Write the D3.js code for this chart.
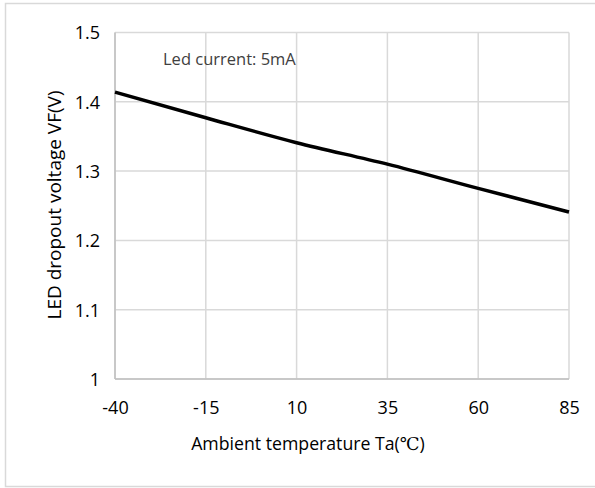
<!DOCTYPE html>
<html><head><meta charset="utf-8">
<script src="https://cdn.jsdelivr.net/npm/d3@7"></script>
<style>body{margin:0;background:#fff}svg{display:block}text{font-family:"Open Sans","Noto Sans",sans-serif}</style>
</head><body>
<script>
const temps = [-40, -15, 10, 35, 60, 85];
const vf = [1.414, 1.377, 1.341, 1.310, 1.275, 1.241];
const yTicks = [1, 1.1, 1.2, 1.3, 1.4, 1.5];
const xTitle = "Ambient temperature Ta(";
const yTitle = "LED dropout voltage VF(V)";
const note = "Led current: 5mA";

const W = 595, H = 488;
const m = {left:115, top:32.5, right:569, bottom:379};
const svg = d3.select("body").append("svg").attr("width", W).attr("height", H);
svg.append("rect").attr("x",5.5).attr("y",3.5).attr("width",W+10).attr("height",483)
  .attr("fill","#fff").attr("stroke","#d9d9d9").attr("stroke-width",1.5);

const x = d3.scaleLinear().domain([-40,85]).range([m.left,m.right]);
const y = d3.scaleLinear().domain([1,1.5]).range([m.bottom,m.top]);

const grid = svg.append("g").attr("stroke","#d9d9d9").attr("stroke-width",1.5);
grid.selectAll(".vx").data(temps).join("line")
  .attr("x1",d=>x(d)).attr("x2",d=>x(d)).attr("y1",m.top).attr("y2",m.bottom);
grid.selectAll(".hy").data(yTicks).join("line")
  .attr("y1",d=>y(d)).attr("y2",d=>y(d)).attr("x1",m.left).attr("x2",m.right);
svg.append("line").attr("x1",m.left).attr("x2",m.right).attr("y1",m.bottom).attr("y2",m.bottom)
  .attr("stroke","#bfbfbf").attr("stroke-width",1.5);
svg.append("line").attr("x1",m.left).attr("x2",m.left).attr("y1",m.top).attr("y2",m.bottom)
  .attr("stroke","#bfbfbf").attr("stroke-width",1.5);

const xAxis = d3.axisBottom(x).tickValues(temps).tickSize(0).tickPadding(0).tickFormat(d=>String(d));
const gx = svg.append("g").attr("transform",`translate(0,${m.bottom})`).call(xAxis);
gx.select(".domain").remove();
gx.selectAll("text").attr("dy",0).attr("y",35).attr("font-size",18).attr("fill","#000");

const yAxis = d3.axisLeft(y).tickValues(yTicks).tickSize(0).tickPadding(0).tickFormat(d=>String(d));
const gy = svg.append("g").attr("transform",`translate(${m.left-15},0)`).call(yAxis);
gy.select(".domain").remove();
gy.selectAll("text").attr("dy","0.35em").attr("font-size",18).attr("fill","#000");

svg.append("path").datum(temps.map((t,i)=>[t,vf[i]]))
  .attr("d", d3.line().x(d=>x(d[0])).y(d=>y(d[1])).curve(d3.curveMonotoneX))
  .attr("fill","none").attr("stroke","#000").attr("stroke-width",3.5);

svg.append("text").attr("x",163).attr("y",65).attr("font-size",16.5).attr("fill","#404040").text(note);

const xt = svg.append("text").attr("x",308).attr("y",450).attr("text-anchor","middle")
  .attr("font-size",17.7).attr("fill","#000");
xt.append("tspan").text(xTitle);
xt.append("tspan").attr("font-family","'Liberation Serif','DejaVu Serif',serif").text("℃");
xt.append("tspan").text(")");

svg.append("text").attr("transform",`translate(61,205) rotate(-90)`)
  .attr("text-anchor","middle").attr("font-size",19).attr("fill","#000").text(yTitle);
</script>
</body></html>
